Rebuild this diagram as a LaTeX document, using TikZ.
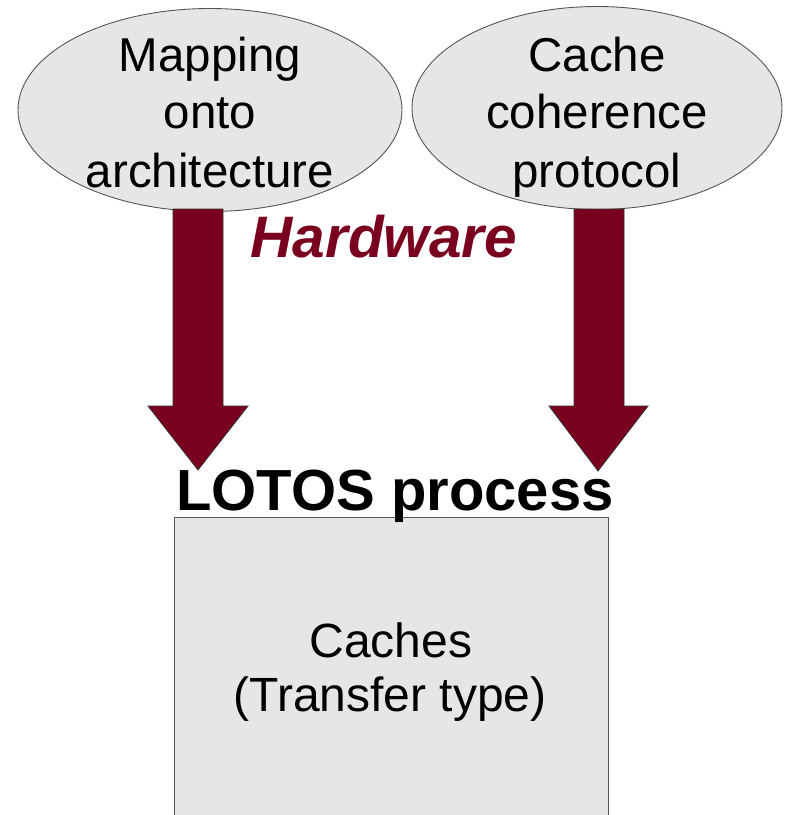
\documentclass[tikz,border=0pt]{standalone}
\usepackage{fontspec}
\setmainfont{Liberation Sans}
\usetikzlibrary{shapes.geometric}
\definecolor{wine}{HTML}{7A0020}
\definecolor{panel}{HTML}{E6E6E6}
\definecolor{rim}{HTML}{555555}
\tikzset{
  bubble/.style={ellipse, draw=rim, line width=0.9pt, fill=panel, inner sep=0pt},
  bubbletext/.style={anchor=base, align=center, font=\fontsize{47.5}{58}\selectfont},
  blockarrow/.style={fill=wine, draw=black!80, line width=0.8pt, line join=miter},
  boxtext/.style={anchor=base, align=center, font=\fontsize{48}{53}\selectfont},
  headline/.style={anchor=base, font=\fontsize{58}{60}\selectfont\bfseries},
}
\begin{document}
\begin{tikzpicture}[x=1pt, y=-1pt]
\useasboundingbox (0,0) rectangle (788,815);

% process box, running off the lower edge
\node[draw=rim, line width=1.3pt, fill=panel, minimum width=434pt, minimum height=313pt,
      inner sep=0pt, anchor=north west] (box) at (174,517) {};
\node[boxtext] (cachesA) at (391,657) {Caches};
\node[boxtext] (cachesB) at (390,711) {(Transfer type)};

% source ellipses
\node[bubble, minimum width=384pt, minimum height=203pt] (map) at (210,110) {};
\node[bubble, minimum width=370pt, minimum height=203pt] (coh) at (597,108) {};
\node[bubbletext] (mapA) at (210,71) {Mapping};
\node[bubbletext] (mapB) at (210,128) {onto};
\node[bubbletext] (mapC) at (210,187) {architecture};
\node[bubbletext] (cohA) at (597,71) {Cache};
\node[bubbletext] (cohB) at (597,128) {coherence};
\node[bubbletext] (cohC) at (597,187) {protocol};

% block arrows from the ellipses down to the process
\coordinate (tipL) at (198,470);
\coordinate (tipR) at (598,471);
\draw[blockarrow] (173,209) -- (223,209) -- (223,406) -- (248,406) -- (tipL)
  -- (148,406) -- (173,406) -- cycle;
\draw[blockarrow] (574,209) -- (624,209) -- (624,406) -- (648,406) -- (tipR)
  -- (549,406) -- (574,406) -- cycle;

% labels
\node[anchor=base, text=wine, font=\fontsize{58.5}{60}\selectfont\bfseries\itshape] (hw) at (384,257) {Hardware};
\node[headline] (lotos) at (395,510) {LOTOS process};
\end{tikzpicture}
\end{document}
